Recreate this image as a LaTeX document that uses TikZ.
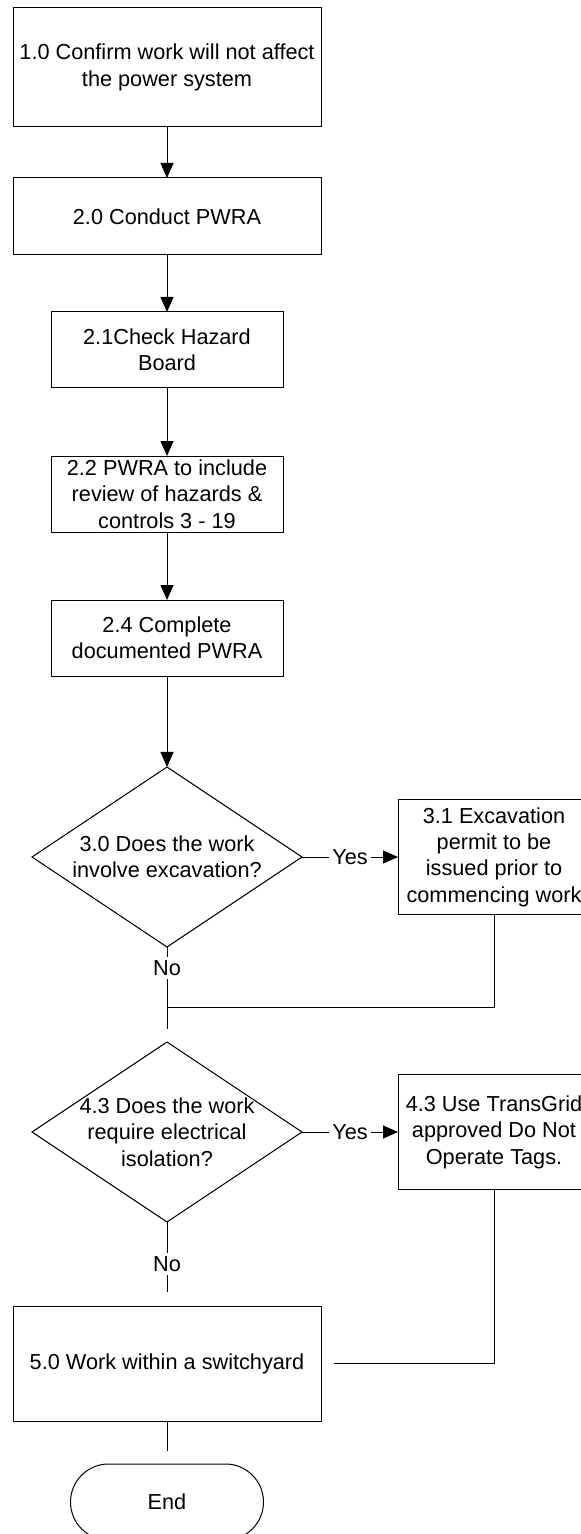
\documentclass[tikz,border=0pt]{standalone}
\usepackage{fontspec}
\setmainfont{Liberation Sans}
\usetikzlibrary{positioning, shapes.geometric, arrows.meta}
\tikzset{pbox/.style={draw, line width=0.5pt, align=center, inner sep=1pt, outer sep=0pt}}
\tikzset{wbox/.style={pbox, minimum width=154pt}}
\tikzset{nbox/.style={pbox, minimum width=116pt, minimum height=38pt}}
\tikzset{sbox/.style={pbox, minimum width=96pt, minimum height=57.5pt}}
\tikzset{dbox/.style={draw, line width=0.5pt, diamond, inner sep=0pt, outer sep=0pt, minimum width=135pt, minimum height=90pt}}
\tikzset{ebox/.style={pbox, rounded corners=19pt, minimum width=96.5pt, minimum height=38pt}}
\tikzset{arr/.style={draw, line width=0.5pt, -{Triangle[width=6.5pt, length=7.5pt]}}}
\tikzset{lin/.style={draw, line width=0.5pt}}
\tikzset{yn/.style={fill=white, inner sep=1.5pt}}

\begin{document}
\begin{tikzpicture}[x=0.5pt, y=-0.5pt, font=\fontsize{10.85pt}{13.2pt}\selectfont]
			\useasboundingbox (0,0) rectangle (581,1534);
			\clip (0,0) rectangle (581,1534);
			\node[wbox, minimum height=59.5pt] (A) at (167,67.5)
			   {1.0 Confirm work will not affect\\the power system};
			\node[wbox, minimum height=38.5pt, below=25.5pt of A] (P) {2.0 Conduct PWRA};
			\node[nbox, below=28.5pt of P] (H) {2.1Check Hazard\\Board};
			\node[nbox, below=34pt of H] (R)
			   {2.2 PWRA to include\\review of hazards \&\\controls 3 - 19};
			\node[nbox, below=34pt of R] (D) {2.4 Complete\\documented PWRA};
			\node[dbox, below=45.5pt of D,
			   label={[align=center]center:{3.0 Does the work\\involve excavation?}}] (X) {};
			\node[sbox, right=48pt of X] (XP)
			   {3.1 Excavation\\permit to be\\issued prior to\\commencing work};
			\coordinate[below=30pt of X] (J);
			\node[dbox, below=47.5pt of X,
			   label={[align=center]center:{4.3 Does the work\\require electrical\\isolation?}}] (I) {};
			\node[sbox, right=48pt of I] (T) {4.3 Use TransGrid\\approved Do Not\\Operate Tags.};
			\node[wbox, minimum height=57.5pt, below=42pt of I] (S) {5.0 Work within a switchyard};
			\node[ebox, below=21.5pt of S] (E) {End};
			\draw[arr] (A) -- (P);
			\draw[arr] (P) -- (H);
			\draw[arr] (H) -- (R);
			\draw[arr] (R) -- (D);
			\draw[arr] (D) -- (X);
			\draw[arr] (X) -- node[yn]{Yes} (XP);
			\draw[lin] (X) -- node[yn, pos=0.35]{No} (J);
			\draw[lin, shorten >=6.5pt] (J) -- (I);
			\draw[lin] (XP) |- (J);
			\draw[arr] (I) -- node[yn]{Yes} (T);
			\draw[lin, shorten >=7pt] (I) -- node[yn]{No} (S);
			\draw[lin, shorten >=6.5pt] (T) |- (S);
			\draw[lin, shorten >=6.5pt] (S) -- (E);%
\end{tikzpicture}
\end{document}
